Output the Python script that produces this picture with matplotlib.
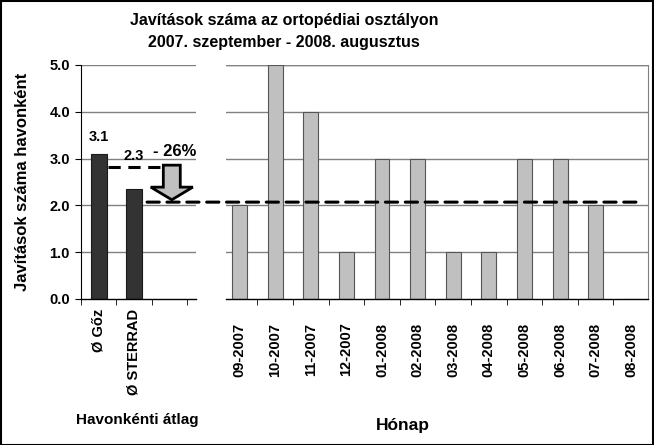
import matplotlib
matplotlib.use("Agg")
import matplotlib.pyplot as plt
from matplotlib.patches import ConnectionPatch, FancyArrow, Rectangle
from matplotlib import font_manager

# ---------------- data ----------------
avg_labels = ["Ø Gőz", "Ø STERRAD"]
avg_values = [3.1, 2.35]
avg_value_text = ["3.1", "2.3"]
months = ["09-2007", "10-2007", "11-2007", "12-2007", "01-2008", "02-2008",
          "03-2008", "04-2008", "05-2008", "06-2008", "07-2008", "08-2008"]
month_values = [2, 5, 4, 1, 3, 3, 1, 1, 3, 3, 2, 0]
y_ticks = [0.0, 1.0, 2.0, 3.0, 4.0, 5.0]
upper_ref = 2.83
lower_ref = 2.07
reduction_text = "- 26%"

title = "Javítások száma az ortopédiai osztályon\n2007. szeptember - 2008. augusztus"
ylabel = "Javítások száma havonként"
xlabel_left = "Havonkénti átlag"
xlabel_right = "Hónap"

# ---------------- fonts ----------------
avail = {f.name for f in font_manager.fontManager.ttflist}
fam = [f for f in ["Liberation Sans Narrow", "Liberation Sans", "DejaVu Sans"] if f in avail]
plt.rcParams["font.family"] = fam
plt.rcParams["font.weight"] = "bold"

W, H = 654, 445
fig = plt.figure(figsize=(W / 100, H / 100), dpi=100)
fig.patch.set_facecolor("white")


def box(x0, x1, ytop, ybot):
    return [x0 / W, 1 - ybot / H, (x1 - x0) / W, (ybot - ytop) / H]


ax1 = fig.add_axes(box(81, 196, 65, 299))
ax2 = fig.add_axes(box(226, 648, 65, 299))

grid_col = "#808080"
for ax in (ax1, ax2):
    ax.set_ylim(0, 5)
    ax.set_yticks(y_ticks)
    for y in y_ticks[1:]:
        ax.axhline(y, color=grid_col, lw=1.0, zorder=0)
    ax.spines["top"].set_visible(False)
    ax.spines["bottom"].set_color("black")
    ax.spines["bottom"].set_linewidth(1.0)

# ---- left panel ----
x_avg = list(range(len(avg_values)))
ax1.bar(x_avg, avg_values, width=0.45, color="#333333", edgecolor="#1a1a1a",
        linewidth=0.8, zorder=2)
ax1.set_xlim(-0.5, 2.755)
ax1.set_xticks([0, 1])
ax1.set_xticklabels(avg_labels, rotation=90, fontsize=10.5, fontweight="bold")
ax1.set_xticks([-0.5, 0.5, 1.5, 2.5], minor=True)
ax1.tick_params(axis="x", which="major", length=0, pad=7)
ax1.tick_params(axis="x", which="minor", length=4, direction="out", color="black")
ax1.set_yticklabels([f"{v:.1f}" for v in y_ticks], fontsize=10.5, fontweight="bold")
ax1.tick_params(axis="y", length=4, direction="out", pad=4)
ax1.spines["right"].set_visible(False)
ax1.spines["left"].set_color("black")
ax1.set_ylabel(ylabel, fontsize=12, fontweight="bold")
ax1.yaxis.set_label_coords(-(81 - 30) / 115, 0.5)
ax1.set_xlabel(xlabel_left, fontsize=11, fontweight="bold")
ax1.xaxis.set_label_coords((137 - 81) / 115, -(413 - 299) / 234)

ax1.text(0, avg_values[0] + 0.22, avg_value_text[0], ha="center", va="bottom",
         fontsize=10.5, fontweight="bold")
ax1.text(1, avg_values[1] + 0.55, avg_value_text[1], ha="center", va="bottom",
         fontsize=10.5, fontweight="bold")
ax1.text(2.15, 3.0, reduction_text, ha="center", va="bottom", fontsize=12,
         fontweight="bold", clip_on=False)

# upper dashed reference
ax1.plot([0.27, 1.83], [upper_ref, upper_ref], color="black", lw=2.2,
         dashes=(4, 2.5), clip_on=False, zorder=4)

# block arrow
arrow = FancyArrow(2.07, 2.86, 0, 2.12 - 2.86, width=0.48, head_width=1.19,
                   head_length=0.27, length_includes_head=True,
                   facecolor="#c0c0c0", edgecolor="black", linewidth=2.0,
                   clip_on=False, zorder=5)
ax1.add_patch(arrow)

# ---- right panel ----
x_m = list(range(len(months)))
ax2.bar(x_m, month_values, width=0.42, color="#c0c0c0", edgecolor="#555555",
        linewidth=0.8, zorder=2)
ax2.set_xlim(-0.38, 11.47)
ax2.set_xticks(x_m)
ax2.set_xticklabels(months, rotation=90, fontsize=10.5, fontweight="bold")
ax2.set_xticks([k + 0.5 for k in range(11)], minor=True)
ax2.tick_params(axis="x", which="major", length=0, pad=17)
ax2.tick_params(axis="x", which="minor", length=4, direction="out", color="black")
ax2.tick_params(axis="y", length=0, labelleft=False)
ax2.spines["left"].set_visible(False)
ax2.spines["right"].set_color(grid_col)
ax2.axhline(5.0, color=grid_col, lw=1.0, zorder=0)
ax2.set_xlabel(xlabel_right, fontsize=12.5, fontweight="bold")
ax2.xaxis.set_label_coords((403 - 226) / 422, -(418 - 299) / 234)

# lower dashed reference across both panels
con = ConnectionPatch(xyA=(1.37, lower_ref), coordsA=ax1.transData,
                      xyB=(11.17, lower_ref), coordsB=ax2.transData,
                      color="black", lw=2.2, linestyle=(0, (4, 2.5)), zorder=6)
fig.add_artist(con)

fig.text(284 / W, 1 - 13 / H, title, ha="center", va="top", fontsize=11.5,
         fontweight="bold", linespacing=1.55)

# figure border
fig.add_artist(Rectangle((0.001, 0.001), 0.998, 0.997, transform=fig.transFigure,
                         fill=False, edgecolor="black", lw=1.5))

fig.savefig("out.png", dpi=100, facecolor="white")
